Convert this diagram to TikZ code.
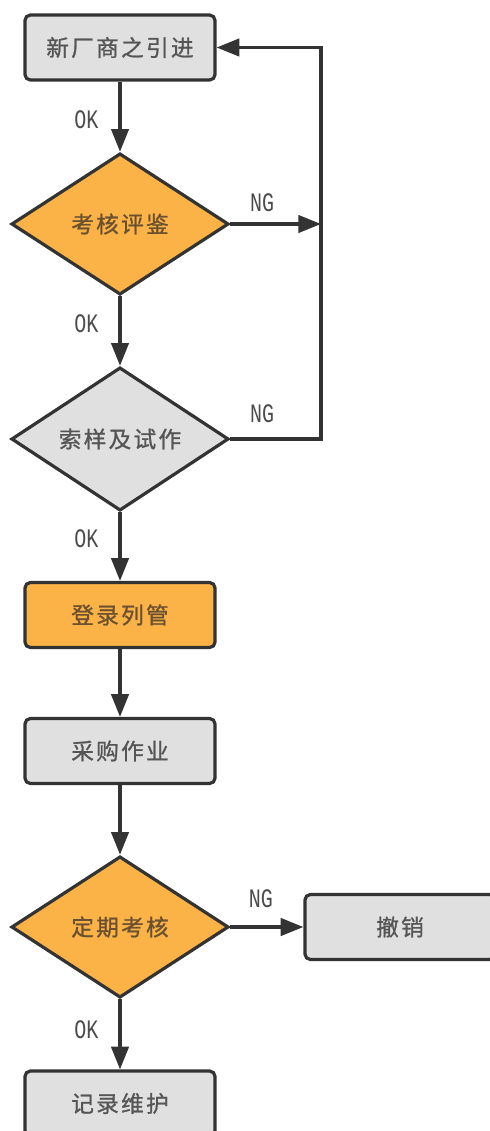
\documentclass[tikz,border=0pt]{standalone}
\usepackage{fontspec}
\newfontfamily\cjk[LetterSpace=10,FakeBold=1]{Noto Sans CJK SC}
\newfontfamily\lbl[FakeStretch=0.75]{Liberation Mono}
\usetikzlibrary{shapes.geometric,arrows.meta}
\definecolor{boxgray}{HTML}{E0E0E0}
\definecolor{boxorange}{HTML}{FBB247}
\definecolor{lineblack}{HTML}{333333}
\definecolor{txtgray}{HTML}{555555}
\definecolor{txtbrown}{HTML}{6A5030}

\begin{document}
\begin{tikzpicture}[
			x=0.75pt, y=-0.75pt,
			every node/.style={font=\cjk\fontsize{17}{19}\selectfont},
			stepbox/.style={draw=lineblack, line width=2.4pt, rounded corners=4pt, fill=boxgray, text=txtgray,
				minimum width=142.5pt, minimum height=48.75pt, inner sep=0pt},
			decision/.style={diamond, draw=lineblack, line width=2.4pt, fill=boxgray, text=txtgray,
				minimum width=163pt, minimum height=106pt, inner sep=0pt},
			hot/.style={fill=boxorange, text=txtbrown},
			flow/.style={draw=lineblack, line width=2.4pt, -{Triangle[length=17pt,width=13pt]}},
			tag/.style={font=\lbl\fontsize{20}{22}\selectfont, text=txtgray!90!black, inner sep=2pt}
			]
			\useasboundingbox (0,0) rectangle (489,1131);
			
			% supplier steps, top to bottom
			\node[stepbox] (intro) at (120,47.5) {新厂商之引进};
			\node[decision, hot] (audit) at (120,224) {考核评鉴};
			\node[decision] (sample) at (120,439) {索样及试作};
			\node[stepbox, hot] (listing) at (120,615) {登录列管};
			\node[stepbox] (purchase) at (120,751) {采购作业};
			\node[decision, hot] (review) at (120,927) {定期考核};
			\node[stepbox] (cancel) at (400,927) {撤销};
			\node[stepbox] (record) at (120,1103.5) {记录维护};
			
			% return line on the right
			\coordinate (merge) at (321,224);
			\coordinate (back) at (321,439);
			
			\draw[flow] (intro) -- node[tag, left=13pt, pos=0.55] {OK} (audit);
			\draw[flow] (audit) -- node[tag, left=13pt, pos=0.39] {OK} (sample);
			\draw[flow] (sample) -- node[tag, left=13pt, pos=0.39] {OK} (listing);
			\draw[flow] (listing) -- (purchase);
			\draw[flow] (purchase) -- (review);
			\draw[flow] (review) -- node[tag, left=13pt, pos=0.44] {OK} (record);
			\draw[flow] (review) -- node[tag, above=11pt, pos=0.42] {NG} (cancel);
			\draw[flow] (audit.east) -- node[tag, above=6pt, pos=0.35] {NG} (merge);
			\draw[flow] (sample.east) -- node[tag, above=9pt, pos=0.35] {NG} (back) |- (intro.east);
		\end{tikzpicture}
\end{document}
